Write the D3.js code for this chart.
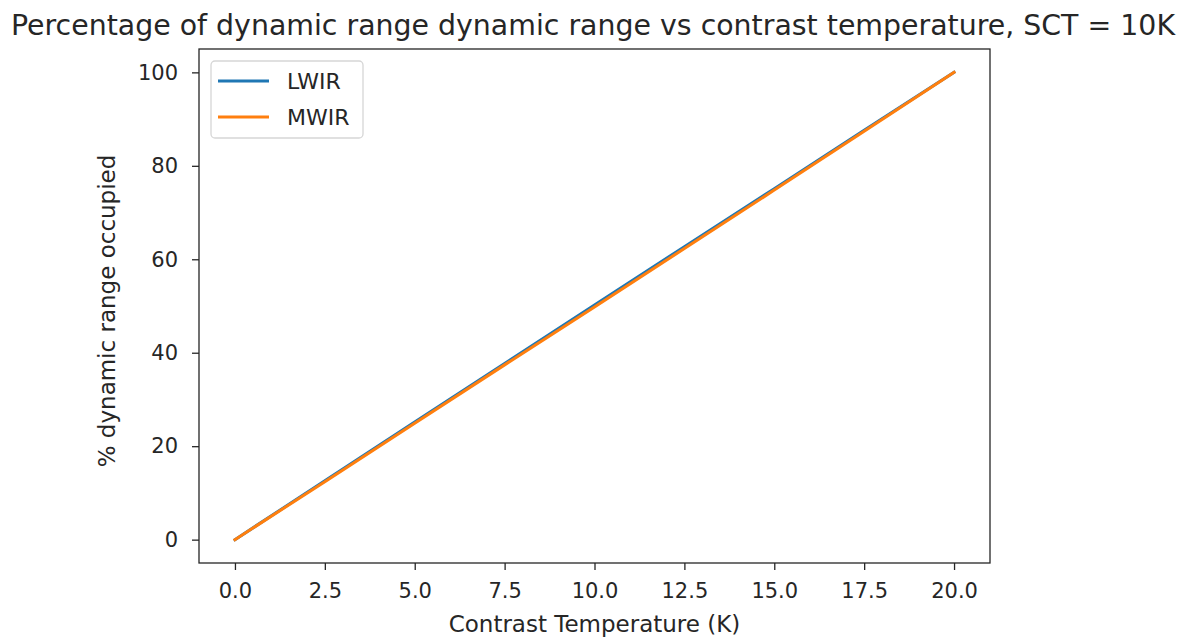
<!DOCTYPE html>
<html>
<head>
<meta charset="utf-8">
<script src="https://cdn.jsdelivr.net/npm/d3@7"></script>
<style>
  body { margin: 0; background: #fff; }
  text { font-family: "DejaVu Sans", sans-serif; fill: #262626; }
</style>
</head>
<body>
<svg width="1182" height="638"></svg>
<script>
// contrast temperature (K)
var contrastTemp = [0, 2.5, 5, 7.5, 10, 12.5, 15, 17.5, 20];
// % dynamic range occupied
var lwirValues = [0, 12.6, 25.2, 37.7, 50.2, 62.7, 75.1, 87.6, 100];
var mwirValues = [0, 12.4, 24.9, 37.4, 49.8, 62.3, 74.8, 87.4, 100];

var xTicks = [0, 2.5, 5, 7.5, 10, 12.5, 15, 17.5, 20];
var yTicks = [0, 20, 40, 60, 80, 100];

var seriesNames = ['LWIR', 'MWIR'];
var seriesColors = ['#1f77b4', '#ff7f0e'];

var svg = d3.select('svg');
var plot = {l: 199, r: 990, t: 49, b: 563};

var x = d3.scaleLinear().domain([-1, 21]).range([plot.l, plot.r]);
var y = d3.scaleLinear().domain([-5, 105]).range([plot.b, plot.t]);

// title
svg.append('text')
    .attr('x', 593).attr('y', 35)
    .attr('text-anchor', 'middle')
    .style('font-size', '28.4px')
    .text('Percentage of dynamic range dynamic range vs contrast temperature, SCT = 10K');

// axes
var xAxis = d3.axisBottom(x).tickValues(xTicks).tickFormat(d3.format('.1f')).tickSize(7).tickPadding(13);
var yAxis = d3.axisLeft(y).tickValues(yTicks).tickFormat(d3.format('d')).tickSize(7).tickPadding(14);

var gx = svg.append('g').attr('transform', 'translate(0,' + plot.b + ')').call(xAxis);
var gy = svg.append('g').attr('transform', 'translate(' + plot.l + ',0)').call(yAxis);
[gx, gy].forEach(function(g) {
    g.select('.domain').remove();
    g.selectAll('line').attr('stroke', '#262626').attr('stroke-width', 1.3);
    g.selectAll('text').style('font-size', '21px').attr('fill', '#262626');
});

// series
var lineGen = d3.line()
    .x(function(d) { return x(d[0]); })
    .y(function(d) { return y(d[1]); });

[lwirValues, mwirValues].forEach(function(vals, i) {
    svg.append('path')
        .datum(contrastTemp.map(function(t, j) { return [t, vals[j]]; }))
        .attr('d', lineGen)
        .attr('fill', 'none')
        .attr('stroke', seriesColors[i])
        .attr('stroke-width', 3)
        .attr('stroke-linecap', 'square');
});

// frame
svg.append('rect')
    .attr('x', plot.l).attr('y', plot.t)
    .attr('width', plot.r - plot.l).attr('height', plot.b - plot.t)
    .attr('fill', 'none').attr('stroke', '#262626').attr('stroke-width', 1.3);

// axis labels
svg.append('text')
    .attr('x', (plot.l + plot.r) / 2).attr('y', 632)
    .attr('text-anchor', 'middle')
    .style('font-size', '23px')
    .text('Contrast Temperature (K)');

svg.append('text')
    .attr('transform', 'translate(115,' + ((plot.t + plot.b) / 2 + 5) + ') rotate(-90)')
    .attr('text-anchor', 'middle')
    .style('font-size', '23px')
    .text('% dynamic range occupied');

// legend
var legend = svg.append('g').attr('transform', 'translate(211,61)');
legend.append('rect')
    .attr('width', 152).attr('height', 77).attr('rx', 4)
    .attr('fill', '#fff').attr('fill-opacity', 0.8)
    .attr('stroke', '#d6d6d6').attr('stroke-width', 1.3);
seriesNames.forEach(function(name, i) {
    var ly = 20 + i * 36;
    legend.append('line')
        .attr('x1', 7).attr('x2', 58).attr('y1', ly).attr('y2', ly)
        .attr('stroke', seriesColors[i]).attr('stroke-width', 3);
    legend.append('text')
        .attr('x', 76).attr('y', ly + 8)
        .style('font-size', '22px')
        .text(name);
});
</script>
</body>
</html>
